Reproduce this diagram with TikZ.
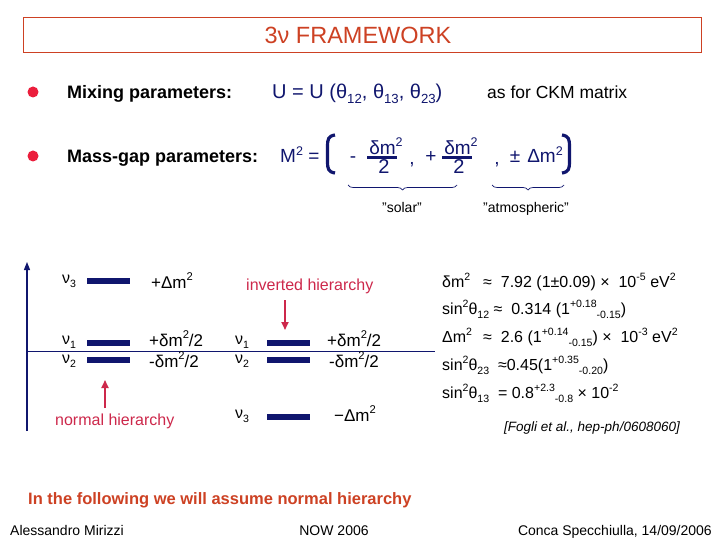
\documentclass[tikz,border=0pt]{standalone}
\usepackage{graphicx}
\usepackage{fontspec}
\setmainfont{Liberation Sans}
\usetikzlibrary{decorations.pathreplacing,arrows.meta}
\definecolor{navy}{RGB}{16,22,110}
\definecolor{ttl}{RGB}{205,65,35}
\definecolor{hred}{RGB}{205,40,75}
\definecolor{bul}{RGB}{235,30,60}
\newcommand\fs[1]{\fontsize{#1}{#1}\selectfont}
\newcommand\hi[1]{\raisebox{0.42em}{\scalebox{0.66}{#1}}}
\newcommand\lo[1]{\raisebox{-0.25em}{\scalebox{0.66}{#1}}}
\tikzset{
  txt/.style={inner sep=0pt, anchor=base west},
  bullet/.style={circle, fill=bul, inner sep=0pt, minimum size=11pt},
  lvl/.style={fill=navy, inner sep=0pt, minimum width=43pt, minimum height=6.5pt},
  nulab/.style={txt, font=\fs{16}},
  enlab/.style={txt, font=\fs{17}},
  hlab/.style={txt, text=hred, font=\fs{16}},
  harrow/.style={draw=hred, line width=1.8pt, -{Triangle[length=8pt,width=7pt]}},
  rtxt/.style={txt, font=\fs{16}},
  nv/.style={inner sep=0pt, anchor=base, text=navy, font=\fs{19}},
  paren/.style={draw=navy, line width=3.2pt},
  brace/.style={draw=navy, line width=0.7pt, decorate, decoration={brace, mirror, amplitude=5pt}},
  foot/.style={inner sep=0pt, font=\fs{14}}
}
\begin{document}
\begin{tikzpicture}[x=1pt,y=-1pt]
\useasboundingbox (0,0) rectangle (720,540);
\fill[white] (0,0) rectangle (720,540);

% title
\node[draw=ttl, line width=0.8pt, inner sep=0pt, minimum width=678pt, minimum height=35pt] (titlebox) at (362,34.5) {};
\node[inner sep=0pt, anchor=base, text=ttl, font=\fs{23.5}] (title) at (358,43.5) {3ν FRAMEWORK};

% bullets
\node[bullet] (b1) at (33,92) {};
\node[bullet] (b2) at (33,156) {};
\node[txt, font=\bfseries\fs{18}] (mix) at (67,98.5) {Mixing parameters:};
\node[txt, font=\bfseries\fs{18}] (mass) at (67,162.5) {Mass-gap parameters:};

% U line
\node[txt, text=navy, font=\fs{20}] (U) at (272,99) {U = U (θ\lo{12}, θ\lo{13}, θ\lo{23})};
\node[txt, font=\fs{17.5}] (ckm) at (487,98.5) {as for CKM matrix};

% M^2 line
\node[txt, text=navy, font=\fs{19}] (M) at (280,163) {M\hi{2} =};
\draw[paren] (335,135) .. controls (328,136) and (327.5,140) .. (327.5,146) -- (327.5,162) .. controls (327.5,168) and (328,172) .. (335,173);
\draw[paren] (562,135) .. controls (569,136) and (569.5,140) .. (569.5,146) -- (569.5,162) .. controls (569.5,168) and (569,172) .. (562,173);
\node[nv] (minus) at (353,163) {-};
\node[nv] (n1) at (386,154.5) {δm\hi{2}};
\draw[navy, line width=2.2pt] (367,157.5) -- (397,157.5);
\node[nv, font=\fs{20}] (d1) at (384,174) {2};
\node[nv] (c1) at (412,165) {,};
\node[nv] (plus) at (431,163) {+};
\node[nv] (n2) at (461,154.5) {δm\hi{2}};
\draw[navy, line width=2.2pt] (442,157.5) -- (472,157.5);
\node[nv, font=\fs{20}] (d2) at (459,174) {2};
\node[nv] (c2) at (497,165) {,};
\node[nv] (pm) at (515,163) {±};
\node[nv] (Dm) at (545,163) {Δm\hi{2}};

% braces
\coordinate (sa) at (348,185);
\coordinate (sb) at (457,185);
\coordinate (aa) at (492,185);
\coordinate (ab) at (564,185);
\draw[brace] (sa) -- (sb);
\draw[brace] (aa) -- (ab);
\node[inner sep=0pt, anchor=base, font=\fs{14}] (solar) at (402,213) {"solar"};
\node[inner sep=0pt, anchor=base, font=\fs{14}] (atm) at (526,213) {"atmospheric"};

% axes
\coordinate (ax0) at (27,431);
\coordinate (ax1) at (27,262);
\coordinate (hx0) at (27,351);
\coordinate (hx1) at (435,351);
\draw[navy, line width=1.3pt, -{Triangle[length=8pt,width=6pt]}] (ax0) -- (ax1);
\draw[navy, line width=1pt] (hx0) -- (hx1);

% normal hierarchy
\node[nulab] (nn3) at (62,283) {ν\lo{3}};
\node[lvl] (ln3) at (108.5,281) {};
\node[enlab] (en3) at (151,288) {+Δm\hi{2}};
\node[nulab] (nn1) at (62,344) {ν\lo{1}};
\node[lvl] (ln1) at (108.5,343) {};
\node[enlab] (en1) at (149,346) {+δm\hi{2}/2};
\node[nulab] (nn2) at (62,363) {ν\lo{2}};
\node[lvl] (ln2) at (108.5,360) {};
\node[enlab] (en2) at (149,367) {-δm\hi{2}/2};
\node[hlab] (nh) at (55,425) {normal hierarchy};
\coordinate (na0) at (105,408);
\coordinate (na1) at (105,380);
\draw[harrow] (na0) -- (na1);

% inverted hierarchy
\node[hlab] (ih) at (246,290) {inverted hierarchy};
\coordinate (ia0) at (285,300);
\coordinate (ia1) at (285,330);
\draw[harrow] (ia0) -- (ia1);
\node[nulab] (in1) at (235,344) {ν\lo{1}};
\node[lvl] (il1) at (288.5,343) {};
\node[enlab] (ie1) at (327,346) {+δm\hi{2}/2};
\node[nulab] (in2) at (235,363) {ν\lo{2}};
\node[lvl] (il2) at (288.5,360) {};
\node[enlab] (ie2) at (329,367) {-δm\hi{2}/2};
\node[nulab] (in3) at (235,418) {ν\lo{3}};
\node[lvl] (il3) at (288.5,417) {};
\node[enlab] (ie3) at (334,421) {−Δm\hi{2}};

% right column
\node[rtxt] (r1a) at (442,287) {δm\hi{2}};
\node[rtxt] (r1b) at (483,287) {≈\ \ 7.92 (1±0.09) ×\ \ 10\hi{-5} eV\hi{2}};
\node[rtxt] (r2) at (442,314) {sin\hi{2}θ\lo{12} ≈\ \ 0.314 (1\hi{+0.18}\lo{-0.15})};
\node[rtxt] (r3a) at (442,342) {Δm\hi{2}};
\node[rtxt] (r3b) at (483,342) {≈\ \ 2.6 (1\hi{+0.14}\lo{-0.15}) ×\ \ 10\hi{-3} eV\hi{2}};
\node[rtxt] (r4) at (442,370) {sin\hi{2}θ\lo{23} \ ≈0.45(1\hi{+0.35}\lo{-0.20})};
\node[rtxt] (r5) at (442,398) {sin\hi{2}θ\lo{13} \ = 0.8\hi{+2.3}\lo{-0.8} × 10\hi{-2}};
\node[txt, font=\itshape\fs{13.5}] (ref) at (504,431) {[Fogli et al., hep-ph/0608060]};

% bottom
\node[txt, text=ttl, font=\bfseries\fs{16.5}] (follow) at (28,504) {In the following we will assume normal hierarchy};
\node[foot, anchor=base west] (f1) at (10,535) {Alessandro Mirizzi};
\node[foot, anchor=base] (f2) at (334,535) {NOW 2006};
\node[foot, anchor=base east] (f3) at (712,535) {Conca Specchiulla, 14/09/2006};
\end{tikzpicture}
\end{document}
